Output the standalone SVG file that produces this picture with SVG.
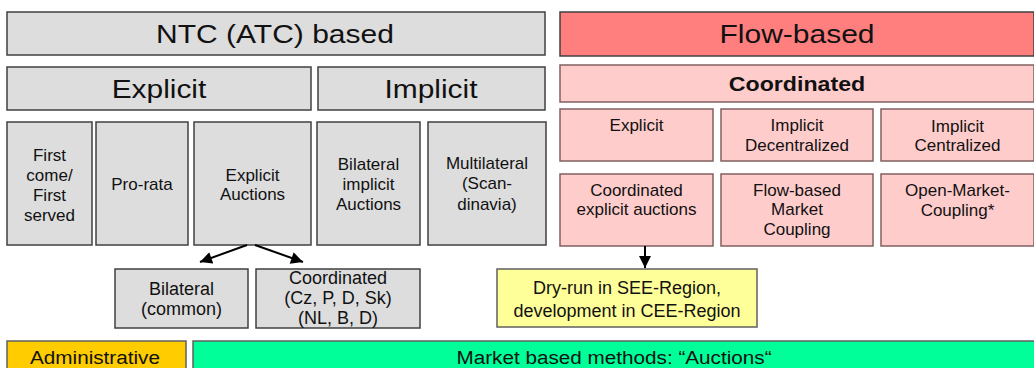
<svg xmlns="http://www.w3.org/2000/svg" width="1034" height="368" viewBox="0 0 1034 368">
  <style>
    .box { stroke: #404040; stroke-width: 1.5; }
    .grey { fill: #dddddd; }
    .red { fill: #ff7f7f; }
    .pink { fill: #ffcccc; stroke: #806060; }
    .yellow { fill: #ffff99; stroke: #606060; }
    .orange { fill: #ffcc00; stroke: #606060; }
    .green { fill: #00ff99; stroke: #606060; }
    text { font-family: "Liberation Sans", Arial, sans-serif; fill: #111111; text-anchor: middle; dominant-baseline: central; transform-box: fill-box; transform-origin: center; }
    .h1 { font-size: 25px; transform: scaleX(1.2); }
    .h2 { font-size: 26px; transform: scaleX(1.15); }
    .b { font-size: 20.5px; font-weight: bold; transform: scaleX(1.13); }
    .t { font-size: 17px; }
    .s { font-size: 17px; }
    .m { font-size: 18px; }
    .f { font-size: 19px; transform: scaleX(1.09); }
    .conn { stroke: #000000; stroke-width: 2; fill: none; }
  </style>
  <defs>
    <marker id="arrow" viewBox="0 0 10 10" refX="10" refY="5" markerWidth="6.5" markerHeight="6" orient="auto" markerUnits="strokeWidth">
      <path d="M0,0 L10,5 L0,10 z" fill="#000000"/>
    </marker>
  </defs>
  <rect width="1034" height="368" fill="#ffffff"/>

  <!-- NTC (ATC) based branch -->
  <g id="ntc">
    <rect class="box grey" x="7" y="12" width="538" height="43"/>
    <text class="h1" x="275" y="34">NTC (ATC) based</text>
  </g>
  <g id="explicit">
    <rect class="box grey" x="7" y="67" width="304" height="43"/>
    <text class="h2" x="159" y="89">Explicit</text>
  </g>
  <g id="implicit">
    <rect class="box grey" x="318" y="67" width="227" height="43"/>
    <text class="h2" x="431" y="89">Implicit</text>
  </g>
  <g id="first-come">
    <rect class="box grey" x="7" y="122" width="85" height="123"/>
    <text class="t" x="49.5" y="155">First</text>
    <text class="t" x="49.5" y="175">come/</text>
    <text class="t" x="49.5" y="195">First</text>
    <text class="t" x="49.5" y="215">served</text>
  </g>
  <g id="pro-rata">
    <rect class="box grey" x="96" y="122" width="92" height="123"/>
    <text class="t" x="142" y="184">Pro-rata</text>
  </g>
  <g id="explicit-auctions">
    <rect class="box grey" x="194" y="122" width="117" height="123"/>
    <text class="t" x="252.5" y="175">Explicit</text>
    <text class="t" x="252.5" y="194">Auctions</text>
  </g>
  <g id="bilateral-implicit">
    <rect class="box grey" x="317" y="122" width="103" height="123"/>
    <text class="t" x="368.5" y="164">Bilateral</text>
    <text class="t" x="368.5" y="184">implicit</text>
    <text class="t" x="368.5" y="204">Auctions</text>
  </g>
  <g id="multilateral">
    <rect class="box grey" x="428" y="122" width="118" height="123"/>
    <text class="t" x="487" y="163">Multilateral</text>
    <text class="t" x="487" y="183">(Scan-</text>
    <text class="t" x="487" y="204">dinavia)</text>
  </g>
  <g id="bilateral-common">
    <rect class="box grey" x="115" y="269" width="133" height="59"/>
    <text class="m" x="181.5" y="289">Bilateral</text>
    <text class="m" x="181.5" y="309">(common)</text>
  </g>
  <g id="coordinated-ntc">
    <rect class="box grey" x="256" y="269" width="164" height="59"/>
    <text class="m" x="338" y="278">Coordinated</text>
    <text class="m" x="338" y="298">(Cz, P, D, Sk)</text>
    <text class="m" x="338" y="318">(NL, B, D)</text>
  </g>

  <!-- Flow-based branch -->
  <g id="flow-based">
    <rect class="box red" x="560" y="12" width="474" height="44"/>
    <text class="h1" x="797" y="34">Flow-based</text>
  </g>
  <g id="coordinated">
    <rect class="box pink" x="560" y="65" width="474" height="37"/>
    <text class="b" x="797" y="84">Coordinated</text>
  </g>
  <g id="fb-explicit">
    <rect class="box pink" x="560" y="109" width="153" height="52"/>
    <text class="s" x="636.5" y="125">Explicit</text>
  </g>
  <g id="fb-implicit-decentralized">
    <rect class="box pink" x="721" y="109" width="152" height="52"/>
    <text class="s" x="797" y="125">Implicit</text>
    <text class="s" x="797" y="145">Decentralized</text>
  </g>
  <g id="fb-implicit-centralized">
    <rect class="box pink" x="881" y="109" width="153" height="52"/>
    <text class="s" x="957.5" y="126">Implicit</text>
    <text class="s" x="957.5" y="145">Centralized</text>
  </g>
  <g id="coordinated-explicit-auctions">
    <rect class="box pink" x="560" y="174" width="153" height="72"/>
    <text class="s" x="636.5" y="190">Coordinated</text>
    <text class="s" x="636.5" y="209">explicit auctions</text>
  </g>
  <g id="fb-market-coupling">
    <rect class="box pink" x="721" y="174" width="152" height="72"/>
    <text class="s" x="797" y="190">Flow-based</text>
    <text class="s" x="797" y="209">Market</text>
    <text class="s" x="797" y="229">Coupling</text>
  </g>
  <g id="open-market-coupling">
    <rect class="box pink" x="881" y="174" width="153" height="72"/>
    <text class="s" x="957.5" y="190">Open-Market-</text>
    <text class="s" x="957.5" y="210">Coupling*</text>
  </g>
  <g id="dry-run">
    <rect class="box yellow" x="497" y="269" width="260" height="58"/>
    <text class="m" x="627" y="288">Dry-run in SEE-Region,</text>
    <text class="m" x="627" y="311">development in CEE-Region</text>
  </g>

  <!-- Method families along the bottom -->
  <g id="administrative">
    <rect class="box orange" x="7" y="341" width="179" height="30"/>
    <text class="f" x="95" y="357">Administrative</text>
  </g>
  <g id="market-based">
    <rect class="box green" x="193" y="341" width="843" height="30"/>
    <text class="f" x="614" y="357">Market based methods: “Auctions“</text>
  </g>

  <!-- Connectors -->
  <g id="connectors">
    <line class="conn" x1="247" y1="245" x2="200" y2="262" marker-end="url(#arrow)"/>
    <line class="conn" x1="255" y1="245" x2="303" y2="262" marker-end="url(#arrow)"/>
    <line class="conn" x1="645" y1="246" x2="645" y2="268" marker-end="url(#arrow)"/>
  </g>
</svg>
